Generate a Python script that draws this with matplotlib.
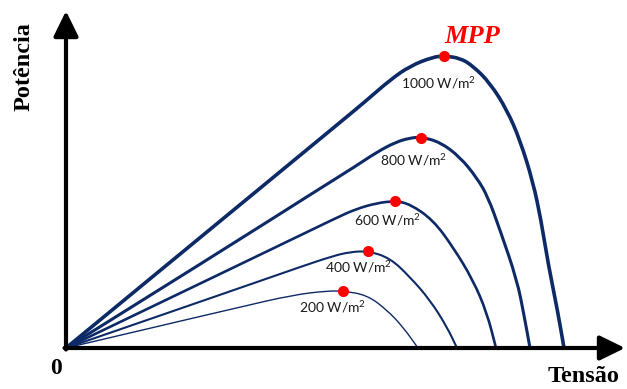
import matplotlib
matplotlib.use("Agg")
import matplotlib.pyplot as plt
from matplotlib.path import Path
from matplotlib.patches import PathPatch

plt.rcParams['mathtext.fontset'] = 'custom'
plt.rcParams['mathtext.rm'] = 'Lato'
plt.rcParams['mathtext.it'] = 'Lato:italic'

# Data (Tensão, Potência), arbitrary units
irradiance = ["1000", "800", "600", "400", "200"]
v1000 = [0, 119, 277, 301, 324, 344, 367, 378, 394, 407, 424, 441, 454, 467, 475, 482, 492, 498]
p1000 = [0, 98, 228, 248, 268, 282, 291, 292, 290, 282, 265, 238, 208, 166, 128, 85, 35, 0]
v800 = [0, 157, 250, 290, 311, 330, 344, 355, 374, 394, 411, 422, 434, 451, 458, 464]
p800 = [0, 98, 157, 182, 196, 206, 210, 211, 206, 191, 170, 151, 118, 68, 33, 0]
v600 = [0, 204, 270, 290, 311, 329, 344, 367, 387, 407, 421, 430]
p600 = [0, 98, 130, 139, 145, 147, 144, 128, 101, 68, 35, 0]
v400 = [0, 174, 234, 267, 284, 302, 324, 344, 364, 381, 391]
p400 = [0, 60, 81, 92, 96, 97, 90, 71, 48, 21, 0]
v200 = [0, 174, 227, 260, 277, 301, 321, 337, 352]
p200 = [0, 41, 53, 57, 57, 53, 38, 21, 0]
mpp_v = [378, 355, 329, 302, 277]
mpp_p = [292, 210, 147, 97, 57]

curves = [(v1000, p1000), (v800, p800), (v600, p600), (v400, p400), (v200, p200)]
widths = [2.6, 2.2, 1.9, 1.5, 1.0]
label_pos = [(373, 265), (348, 188), (322, 128), (293, 81), (267, 41)]
navy = '#0d2a66'

fig = plt.figure(figsize=(6.27, 3.89), dpi=100)
ax = fig.add_axes([0, 0, 1, 1])
ax.set_xlim(-66, 561)
ax.set_ylim(-41, 348)
ax.axis('off')


def smooth_path(xs, ys):
    pts = list(zip(xs, ys))
    verts = [pts[0]]
    codes = [Path.MOVETO]
    for i in range(1, len(pts) - 1):
        mid = ((pts[i][0] + pts[i + 1][0]) / 2, (pts[i][1] + pts[i + 1][1]) / 2)
        verts += [pts[i], mid]
        codes += [Path.CURVE3, Path.CURVE3]
    verts.append(pts[-1])
    codes.append(Path.LINETO)
    return Path(verts, codes)


for (xs, ys), lw in zip(curves, widths):
    ax.add_patch(PathPatch(smooth_path(xs, ys), fill=False, edgecolor=navy,
                           lw=lw, capstyle='round', joinstyle='round', zorder=2))

ax.plot(mpp_v, mpp_p, 'o', color='#ff0000', markersize=8, zorder=4,
        markeredgewidth=0)

for lab, (lx, ly) in zip(irradiance, label_pos):
    ax.text(lx, ly, lab + " W/m$^2$", fontsize=10, family='Lato', color='#1a1a1a',
            ha='center', va='center', zorder=3)

# Axes arrows
arrow_kw = dict(arrowstyle='-|>,head_length=0.55,head_width=0.27',
                lw=3, color='black', mutation_scale=28, shrinkA=0, shrinkB=0)
ax.annotate('', xy=(559, 0), xytext=(-1.5, 0), arrowprops=arrow_kw, zorder=5,
            annotation_clip=False)
ax.annotate('', xy=(0, 337), xytext=(0, -1.5), arrowprops=arrow_kw, zorder=5,
            annotation_clip=False)

ax.text(-42, 281, "Potência", rotation=90, family='Liberation Serif', weight='bold',
        fontsize=17.5, ha='center', va='center')
ax.text(-10, -20, "0", family='Liberation Serif', weight='bold', fontsize=17,
        ha='center', va='center')
ax.text(517, -28, "Tensão", family='Liberation Serif', weight='bold', fontsize=17.5,
        ha='center', va='center')
ax.text(406, 312, "MPP", family='Liberation Serif', weight='bold', style='italic',
        fontsize=19, color='#ff0000', ha='center', va='center')

fig.savefig("out.png", dpi=100)
